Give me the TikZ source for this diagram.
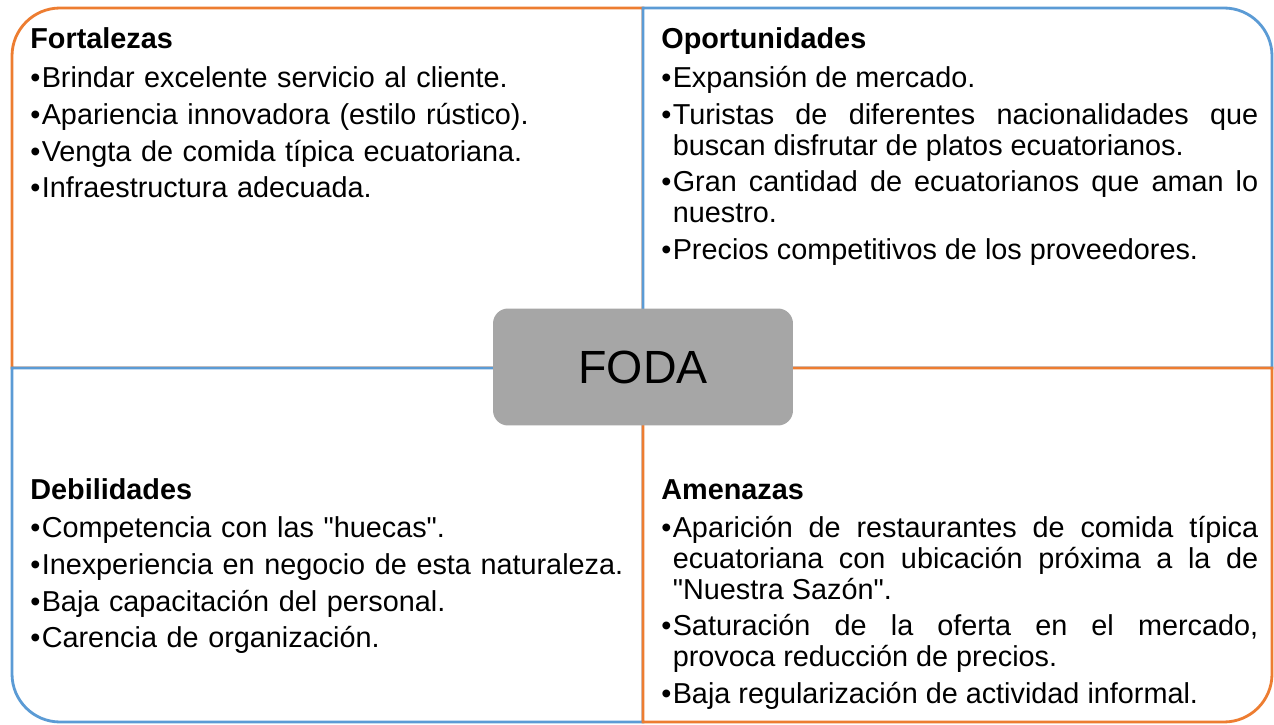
\documentclass[tikz,border=0pt]{standalone}
\usepackage{fontspec}
\setmainfont{Liberation Sans}[Ligatures=TeXOff]
\usetikzlibrary{positioning}
\definecolor{fodaorange}{RGB}{237,125,49}
\definecolor{fodablue}{RGB}{91,155,213}
\definecolor{fodagray}{RGB}{166,166,166}
\newlength{\bulletw}
\setlength{\bulletw}{6.5pt}
\newcommand{\fodaitem}[1]{\par\noindent\hangindent=\bulletw\hangafter=1\makebox[\bulletw][l]{•}#1}

\begin{document}
\begin{tikzpicture}[
			x=0.02cm, y=0.02cm,
			quadrant/.style={
				line width=1.6pt,
				fill=white
			},
			heading/.style={
				anchor=base west,
				inner sep=0pt,
				font=\bfseries\fontsize{16.4}{17.6}\selectfont
			},
			itemlist/.style={
				anchor=north west,
				inner sep=0pt,
				text width=11.94cm,
				font=\fontsize{16.4}{17.6}\selectfont,
				execute at begin node={\setlength{\parskip}{3.4pt}\hyphenpenalty=10000}
			},
			centerbox/.style={
				fill=fodagray,
				rounded corners=0.3cm,
				minimum width=6cm,
				minimum height=2.34cm,
				inner sep=0pt,
				font=\fontsize{26.5}{30}\selectfont
			}
			]
			\path[use as bounding box] (0,0) rectangle (1274,724);
			
			% Quadrants
			\draw[quadrant, draw=fodaorange] (643,356) -- (12,356) -- (12,668)
				arc[start angle=180, end angle=90, radius=0.96cm] -- (643,716) -- cycle;
			\draw[quadrant, draw=fodablue] (643,356) -- (643,716) -- (1224,716)
				arc[start angle=90, end angle=0, radius=0.96cm] -- (1272,356) -- cycle;
			\draw[quadrant, draw=fodablue] (643,356) -- (643,2) -- (60,2)
				arc[start angle=270, end angle=180, radius=0.96cm] -- (12,356) -- cycle;
			\draw[quadrant, draw=fodaorange] (643,356) -- (1272,356) -- (1272,50)
				arc[start angle=0, end angle=-90, radius=0.96cm] -- (643,2) -- cycle;
			
			% Headings
			\node[heading] (fort) at (30,675) {Fortalezas};
			\node[heading] (opor) at (661,675) {Oportunidades};
			\node[heading] (debi) at (30,225) {Debilidades};
			\node[heading] (amen) at (661,225) {Amenazas};
			
			% Lists
			\node[itemlist, align=left, text width=12.5cm] (fortlist) at (30,674) {%
				\fodaitem{Brindar excelente servicio al cliente.}
				\fodaitem{Apariencia innovadora (estilo rústico).}
				\fodaitem{Vengta de comida típica ecuatoriana.}
				\fodaitem{Infraestructura adecuada.}};
			\node[itemlist, align=justify] (oporlist) at (661,674) {%
				\fodaitem{Expansión de mercado.}
				\fodaitem{Turistas de diferentes nacionalidades que\linebreak buscan disfrutar de platos ecuatorianos.}
				\fodaitem{Gran cantidad de ecuatorianos que aman lo\linebreak nuestro.}
				\fodaitem{Precios competitivos de los proveedores.}};
			\node[itemlist, align=left, text width=12.5cm] (debilist) at (30,224) {%
				\fodaitem{Competencia con las "huecas".}
				\fodaitem{Inexperiencia en negocio de esta naturaleza.}
				\fodaitem{Baja capacitación del personal.}
				\fodaitem{Carencia de organización.}};
			\node[itemlist, align=justify] (amenlist) at (661,224) {%
				\fodaitem{Aparición de restaurantes de comida típica\linebreak ecuatoriana con ubicación próxima a la de\linebreak "Nuestra Sazón".}
				\fodaitem{Saturación de la oferta en el mercado,\linebreak provoca reducción de precios.}
				\fodaitem{Baja regularización de actividad informal.}};
			
			% Centre
			\node[centerbox] (foda) at (643,357) {FODA};
		\end{tikzpicture}
\end{document}
